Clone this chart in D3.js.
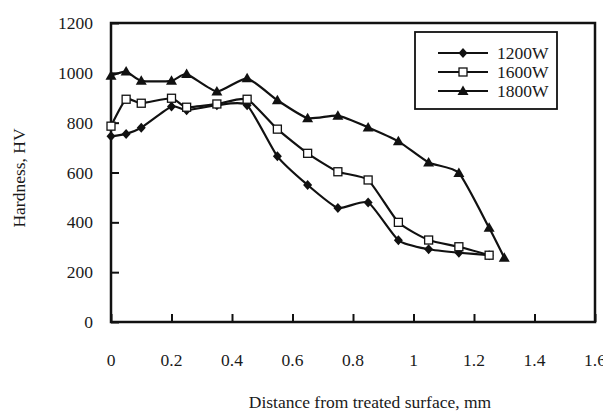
<!DOCTYPE html>
<html lang="en">
<head>
<meta charset="UTF-8">
<title>Hardness profile</title>
<script src="https://cdnjs.cloudflare.com/ajax/libs/d3/7.8.5/d3.min.js"></script>
<style>
  body { margin: 0; background: #fff; }
</style>
</head>
<body>
<script>

// distance from treated surface, mm
var dist = [0, 0.05, 0.1, 0.2, 0.25, 0.35, 0.45, 0.55, 0.65, 0.75, 0.85, 0.95, 1.05, 1.15, 1.25];
var dist1800 = [0, 0.05, 0.1, 0.2, 0.25, 0.35, 0.45, 0.55, 0.65, 0.75, 0.85, 0.95, 1.05, 1.15, 1.25, 1.3];

// hardness, HV
var hv1200 = [745, 755, 780, 865, 850, 870, 870, 665, 550, 458, 480, 328, 292, 278, 268];
var hv1600 = [786, 894, 878, 898, 862, 875, 894, 774, 677, 603, 570, 400, 329, 302, 268];
var hv1800 = [988, 1005, 968, 968, 995, 925, 978, 890, 818, 828, 781, 725, 640, 598, 378, 258];

var seriesNames = ["1200W", "1600W", "1800W"];
var xTicks = [0, 0.2, 0.4, 0.6, 0.8, 1, 1.2, 1.4, 1.6];
var xTickLabels = ["0", "0.2", "0.4", "0.6", "0.8", "1", "1.2", "1.4", "1.6"];
var yTicks = [0, 200, 400, 600, 800, 1000, 1200];

var width = 603, height = 411;
var plot = {left: 111, right: 595, top: 23, bottom: 322};
var serif = "'Liberation Serif', 'Times New Roman', 'DejaVu Serif', serif";
var fs = 17.5;

var svg = d3.select("body").append("svg")
    .attr("width", width)
    .attr("height", height)
    .attr("font-family", serif);

var x = d3.scaleLinear().domain([0, 1.6]).range([plot.left, plot.right]);
var y = d3.scaleLinear().domain([0, 1200]).range([plot.bottom, plot.top]);

// frame
svg.append("rect")
    .attr("x", plot.left).attr("y", plot.top)
    .attr("width", plot.right - plot.left)
    .attr("height", plot.bottom - plot.top)
    .attr("fill", "none")
    .attr("stroke", "#111")
    .attr("stroke-width", 2.5);

// inside ticks
var xAxis = d3.axisBottom(x).tickValues(xTicks).tickSize(-8).tickFormat("");
var yAxis = d3.axisLeft(y).tickValues(yTicks).tickSize(-8).tickFormat("");

svg.append("g").attr("transform", "translate(0," + plot.bottom + ")").call(xAxis)
  .call(function(g) {
    g.select(".domain").remove();
    g.selectAll("line").attr("stroke", "#111").attr("stroke-width", 2);
  });
svg.append("g").attr("transform", "translate(" + plot.left + ",0)").call(yAxis)
  .call(function(g) {
    g.select(".domain").remove();
    g.selectAll("line").attr("stroke", "#111").attr("stroke-width", 2);
  });

// tick labels
svg.selectAll(".xl").data(xTicks).enter().append("text")
    .attr("x", function(d) { return x(d); })
    .attr("y", 366)
    .attr("text-anchor", "middle")
    .attr("font-family", serif)
    .attr("font-size", fs)
    .attr("fill", "#1a1a1a")
    .text(function(d, i) { return xTickLabels[i]; });

svg.selectAll(".yl").data(yTicks).enter().append("text")
    .attr("x", 93)
    .attr("y", function(d) { return y(d) + 6; })
    .attr("text-anchor", "end")
    .attr("font-family", serif)
    .attr("font-size", fs)
    .attr("fill", "#1a1a1a")
    .text(function(d) { return d; });

// axis titles
svg.append("text")
    .attr("x", 370).attr("y", 408)
    .attr("text-anchor", "middle")
    .attr("font-family", serif)
    .attr("font-size", fs)
    .attr("fill", "#1a1a1a")
    .text("Distance from treated surface, mm");

svg.append("text")
    .attr("transform", "translate(25,178) rotate(-90)")
    .attr("text-anchor", "middle")
    .attr("font-family", serif)
    .attr("font-size", fs)
    .attr("fill", "#1a1a1a")
    .text("Hardness, HV");

// markers
function marker(g, kind) {
  if (kind === 0) {
    g.append("path").attr("d", "M0,-5L4.5,0L0,5L-4.5,0Z").attr("fill", "#111");
  } else if (kind === 1) {
    g.append("rect").attr("x", -4).attr("y", -4).attr("width", 8).attr("height", 8)
      .attr("fill", "#fff").attr("stroke", "#111").attr("stroke-width", 1.3);
  } else {
    g.append("path").attr("d", "M0,-5.5L5.5,4L-5.5,4Z").attr("fill", "#111");
  }
}

var line = d3.line()
    .x(function(d) { return x(d[0]); })
    .y(function(d) { return y(d[1]); })
    .curve(d3.curveCardinal.tension(0.45));

var series = [
  d3.zip(dist, hv1200),
  d3.zip(dist, hv1600),
  d3.zip(dist1800, hv1800)
];

series.forEach(function(pts) {
  svg.append("path")
      .datum(pts)
      .attr("d", line)
      .attr("fill", "none")
      .attr("stroke", "#111")
      .attr("stroke-width", 2.2);
});

series.forEach(function(pts, k) {
  svg.append("g").selectAll("g").data(pts).enter().append("g")
      .attr("transform", function(d) { return "translate(" + x(d[0]) + "," + y(d[1]) + ")"; })
      .each(function() { marker(d3.select(this), k); });
});

// legend
var lg = svg.append("g");
lg.append("rect")
    .attr("x", 415).attr("y", 32)
    .attr("width", 142).attr("height", 77)
    .attr("fill", "#fff")
    .attr("stroke", "#111")
    .attr("stroke-width", 1.8);

seriesNames.forEach(function(name, k) {
  var ly = 53 + k * 19;
  lg.append("line")
      .attr("x1", 438).attr("x2", 488)
      .attr("y1", ly).attr("y2", ly)
      .attr("stroke", "#111").attr("stroke-width", 2.2);
  var m = lg.append("g").attr("transform", "translate(463," + ly + ")");
  marker(m, k);
  lg.append("text")
      .attr("x", 497).attr("y", ly + 6)
      .attr("font-family", serif)
      .attr("font-size", fs)
      .attr("fill", "#1a1a1a")
      .text(name);
});

</script>
</body>
</html>
